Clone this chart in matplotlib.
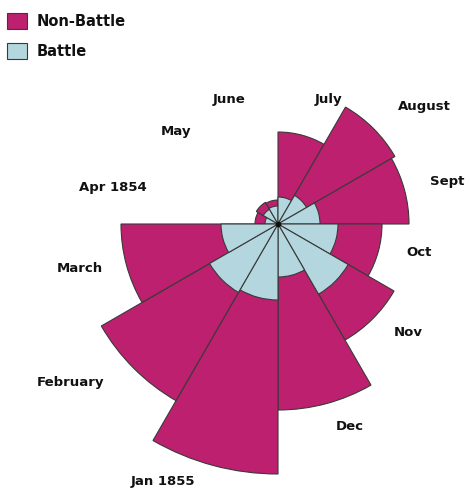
import numpy as np
from matplotlib import pyplot as plt
from matplotlib.patches import Rectangle

# months, clockwise from Apr 1854 (left) to March 1855
months = ["Apr 1854", "May", "June", "July", "August", "Sept",
          "Oct", "Nov", "Dec", "Jan 1855", "February", "March"]
# wedge radius (same units for both series)
non_battle = [23, 25, 24, 92, 135, 131, 104, 134, 186, 250, 204, 157]
battle = [13, 17, 18, 27, 33, 42, 60, 81, 53, 76, 79, 57]

# label positions in pixels (x, y from top)
label_pos = [(113, 187), (176, 132), (229, 100), (328, 99), (424, 106),
             (447, 181), (419, 253), (408, 332), (350, 426), (163, 481),
             (71, 382), (80, 268)]

MAG = "#BC206E"
BLUE = "#B4D6DE"
EDGE = "#3a3a3a"

W, H = 470, 490
cx, cy = 278, 224   # centre in pixels
R = 260             # radius of polar axes in pixels

fig = plt.figure(figsize=(W / 100, H / 100), dpi=100)
ax = fig.add_axes([(cx - R) / W, (H - cy - R) / H, 2 * R / W, 2 * R / H],
                  projection="polar")
ax.set_ylim(0, R)
ax.set_axis_off()

# April wedge spans 150..180 deg, then clockwise 30 deg each
theta = np.deg2rad(165 - 30 * np.arange(len(months)))
width = np.deg2rad(30)
ax.bar(theta, non_battle, width=width, bottom=0, color=MAG,
       edgecolor=EDGE, linewidth=0.8, zorder=2)
ax.bar(theta, battle, width=width, bottom=0, color=BLUE,
       edgecolor=EDGE, linewidth=0.8, zorder=3)
ax.plot([0], [0], "o", color="#111111", ms=3, zorder=4)

txt = dict(fontsize=9.5, fontweight="bold", color="#111111",
           ha="center", va="center", family="DejaVu Sans")
for m, (x, y) in zip(months, label_pos):
    fig.text(x / W, 1 - y / H, m, **txt)

# legend
for i, (name, c) in enumerate([("Non-Battle", MAG), ("Battle", BLUE)]):
    y0 = [13, 43][i]
    fig.patches.append(Rectangle((7 / W, 1 - (y0 + 16) / H), 20 / W, 16 / H,
                                 transform=fig.transFigure, facecolor=c,
                                 edgecolor=EDGE, linewidth=0.8))
    fig.text(37 / W, 1 - (y0 + 9) / H, name, fontsize=10.5, fontweight="bold",
             color="#111111", ha="left", va="center", family="DejaVu Sans")

fig.savefig("out.png", dpi=100)
